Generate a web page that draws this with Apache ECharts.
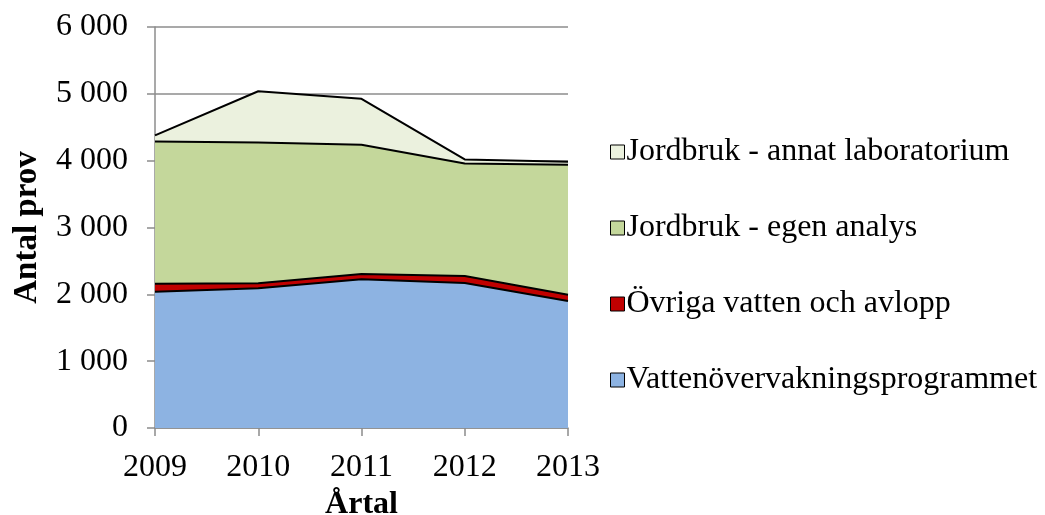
<!DOCTYPE html>
<html>
<head>
<meta charset="utf-8">
<script src="https://cdn.jsdelivr.net/npm/echarts@6/dist/echarts.min.js"></script>
<style>
html,body{margin:0;padding:0;background:#fff;}
#chart{width:1045px;height:515px;}
</style>
</head>
<body>
<div id="chart"></div>
<script>
const years = ['2009', '2010', '2011', '2012', '2013'];
const vattenovervakning = [2040, 2090, 2225, 2170, 1900];
const ovrigaVatten = [120, 75, 80, 105, 95];
const jordbrukEgen = [2125, 2107, 1934, 1683, 1945];
const jordbrukAnnat = [93, 767, 686, 61, 45];
const seriesNames = ['Vattenövervakningsprogrammet', 'Övriga vatten och avlopp', 'Jordbruk - egen analys', 'Jordbruk - annat laboratorium'];
const yTicks = { min: 0, max: 6000, interval: 1000 };

const FONT = '"Liberation Serif", "Times New Roman", serif';
const fills = ['#8DB3E2', '#C00000', '#C4D79B', '#EBF1DE'];
const dataSets = [vattenovervakning, ovrigaVatten, jordbrukEgen, jordbrukAnnat];

const chart = echarts.init(document.getElementById('chart'));
chart.setOption({
  animation: false,
  backgroundColor: '#fff',
  textStyle: { fontFamily: FONT },
  grid: { left: 155, right: 477, top: 27, bottom: 87, containLabel: false, outerBoundsMode: 'none' },
  legend: {
    orient: 'vertical',
    left: 605,
    top: 131,
    icon: 'rect',
    itemWidth: 14,
    itemHeight: 14,
    itemGap: 44,
    selectedMode: false,
    data: seriesNames.slice().reverse(),
    itemStyle: { borderColor: '#000', borderWidth: 1 },
    textStyle: { fontFamily: FONT, fontSize: 32, color: '#000', padding: [0, 0, 0, -3] }
  },
  xAxis: {
    type: 'category',
    data: years,
    boundaryGap: false,
    name: 'Årtal',
    nameLocation: 'middle',
    nameGap: 60,
    nameTextStyle: { fontFamily: FONT, fontSize: 32, fontWeight: 'bold', color: '#000' },
    axisLine: { lineStyle: { color: '#8C8C8C', width: 1.5 } },
    axisTick: { show: true, length: 8, interval: 0, lineStyle: { color: '#8C8C8C', width: 1.5 } },
    axisLabel: { fontFamily: FONT, fontSize: 32, color: '#000', margin: 24, interval: 0 },
    splitLine: { show: false }
  },
  yAxis: {
    type: 'value',
    min: yTicks.min,
    max: yTicks.max,
    interval: yTicks.interval,
    name: 'Antal prov',
    nameLocation: 'middle',
    nameGap: 111,
    nameTextStyle: { fontFamily: FONT, fontSize: 33, fontWeight: 'bold', color: '#000' },
    axisLine: { show: true, lineStyle: { color: '#8C8C8C', width: 1.5 } },
    axisTick: { show: true, length: 8, lineStyle: { color: '#8C8C8C', width: 1.5 } },
    axisLabel: {
      fontFamily: FONT, fontSize: 32, color: '#000', margin: 27,
      formatter: v => String(v).replace(/\B(?=(\d{3})+(?!\d))/g, ' ')
    },
    splitLine: { show: true, lineStyle: { color: '#8C8C8C', width: 1.5 } }
  },
  series: dataSets.map((d, i) => ({
    name: seriesNames[i],
    type: 'line',
    stack: 'total',
    data: d,
    showSymbol: false,
    symbol: 'none',
    color: fills[i],
    lineStyle: { color: '#000', width: 2 },
    areaStyle: { color: fills[i], opacity: 1 },
    itemStyle: { color: fills[i], borderColor: '#000', borderWidth: 1 },
    emphasis: { disabled: true }
  }))
});
</script>
</body>
</html>
